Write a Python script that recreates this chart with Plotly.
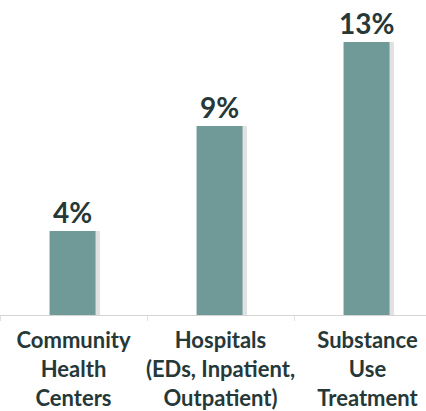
import plotly.graph_objects as go

categories = ["Community<br>Health<br>Centers", "Hospitals<br>(EDs, Inpatient,<br>Outpatient)", "Substance<br>Use<br>Treatment"]
values = [4, 9, 13]
labels = ["4%", "9%", "13%"]

BAR = "#6f9a98"
TXT = "#263838"

fig = go.Figure()
# soft drop shadow
fig.add_trace(go.Bar(x=categories, y=values, width=0.335, offset=-0.155,
                     marker=dict(color="rgba(90,90,90,0.18)", line=dict(width=0)),
                     hoverinfo="skip", showlegend=False))
fig.add_trace(go.Bar(x=categories, y=values, width=0.313, offset=-0.163,
                     marker=dict(color=BAR, line=dict(width=0)),
                     showlegend=False))

for c, v, t in zip(categories, values, labels):
    fig.add_annotation(x=c, y=v, text=t, showarrow=False, yanchor="bottom",
                       xshift=-1, yshift=0,
                       font=dict(family="Lato", size=28, color=TXT, weight="bold"))

fig.update_layout(
    width=426, height=411,
    margin=dict(l=0, r=0, t=0, b=96, autoexpand=False),
    plot_bgcolor="white", paper_bgcolor="white",
    barmode="overlay",
    xaxis=dict(range=[-0.5, -0.5 + 426 / 147], tickson="boundaries",
               showline=True, linecolor="#d4d4d4", linewidth=1,
               ticks="outside", ticklen=5, tickcolor="#e0e0e0",
               tickangle=0, automargin=False,
               tickfont=dict(family="Lato", size=22, color=TXT, weight="bold"),
               ticklabelstandoff=6, showgrid=False),
    yaxis=dict(range=[0, 15], visible=False, showgrid=False, automargin=False),
)
fig.write_html("out.html")
